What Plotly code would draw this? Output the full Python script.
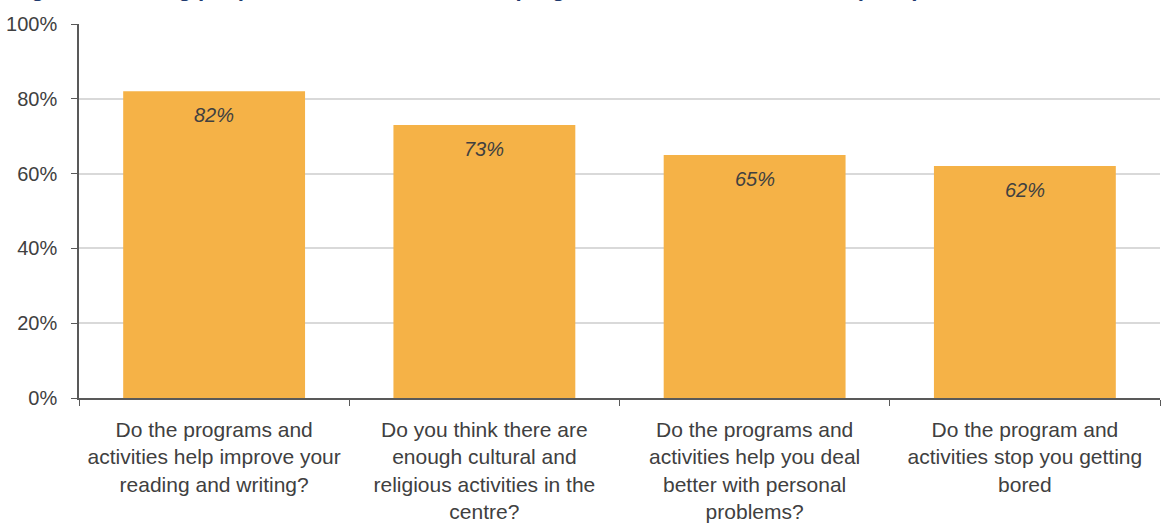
import plotly.graph_objects as go

# Survey questions (x categories) and share answering "yes"
questions = [
    "Do the programs and<br>activities help improve your<br>reading and writing?",
    "Do you think there are<br>enough cultural and<br>religious activities in the<br>centre?",
    "Do the programs and<br>activities help you deal<br>better with personal<br>problems?",
    "Do the program and<br>activities stop you getting<br>bored",
]
yes_share = [82, 73, 65, 62]
y_ticks = [0, 20, 40, 60, 80, 100]
y_tick_labels = ["0%", "20%", "40%", "60%", "80%", "100%"]

title_text = "Figure 12: Young people's satisfaction with the programs and activities offered (2016)"

bar_color = "#F5B247"
text_color = "#404040"
axis_color = "#595959"
grid_color = "#D9D9D9"
font_family = "Arial, Liberation Sans, sans-serif"

fig = go.Figure()
fig.add_trace(go.Bar(
    x=questions,
    y=yes_share,
    marker=dict(color=bar_color, line=dict(width=0)),
    hoverinfo="skip",
))

# Value labels just inside the top of each bar
for q, v in zip(questions, yes_share):
    fig.add_annotation(
        x=q, y=v, xref="x", yref="y",
        text=f"{v}%",
        showarrow=False,
        yanchor="top",
        yshift=-11,
        font=dict(family=font_family, size=20, color=text_color, style="italic"),
    )

# Figure title sitting above the chart area
fig.add_annotation(
    x=0, y=1, xref="paper", yref="paper",
    xanchor="left", yanchor="bottom",
    xshift=-70, yshift=21,
    text=f"<b>{title_text}</b>",
    showarrow=False,
    font=dict(family=font_family, size=22.4, color="#1F3A6E"),
)

fig.update_layout(
    width=1162, height=530,
    margin=dict(l=79, r=2, t=24, b=132),
    paper_bgcolor="white",
    plot_bgcolor="white",
    bargap=0.327,
    showlegend=False,
    font=dict(family=font_family, size=20, color=text_color),
)

fig.update_xaxes(
    showline=True, linecolor=axis_color, linewidth=1.5,
    ticks="outside", tickson="boundaries", ticklen=6, tickcolor=axis_color,
    tickfont=dict(family=font_family, size=21, color=text_color),
    ticklabelstandoff=12,
    showgrid=False,
)
fig.update_yaxes(
    range=[0, 100],
    tickvals=y_ticks,
    ticktext=y_tick_labels,
    showline=True, linecolor=axis_color, linewidth=1.5,
    ticks="outside", ticklen=6, tickcolor=axis_color,
    tickfont=dict(family=font_family, size=20, color=text_color),
    ticklabelstandoff=10,
    showgrid=True, gridcolor=grid_color, gridwidth=1.5,
    zeroline=False,
)

fig.write_html("out.html")
